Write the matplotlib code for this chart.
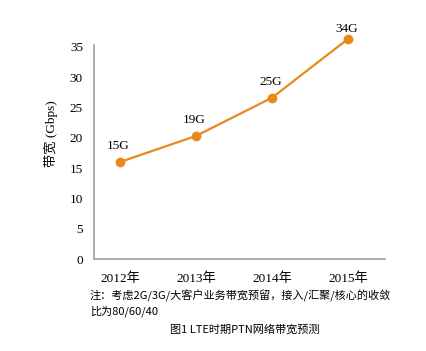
import matplotlib
matplotlib.use("Agg")
import matplotlib.pyplot as plt
import matplotlib.transforms as mtransforms

years = ["2012年", "2013年", "2014年", "2015年"]
bandwidth = [16.0, 20.3, 26.6, 36.3]
point_labels = ["15G", "19G", "25G", "34G"]
yticks = [0, 5, 10, 15, 20, 25, 30, 35]

serif = ["Liberation Serif", "Noto Sans CJK SC"]
cjk = ["Noto Sans CJK SC", "DejaVu Sans"]

fig = plt.figure(figsize=(4.26, 3.51), dpi=100)
ax = fig.add_axes([94/426, 1 - 259/351, (385-94)/426, (259-45)/351])

x = list(range(len(years)))
ax.plot(x, bandwidth, color="#E8891C", lw=1.6, marker="o", ms=6, clip_on=False, zorder=3)
label_dy = [7, 7, 7, 3]
for xi, v, lab, dy in zip(x, bandwidth, point_labels, label_dy):
    ax.annotate(lab, (xi, v), xytext=(-1, dy), textcoords="offset points",
                ha="center", va="bottom", fontsize=9.5, family=serif,
                annotation_clip=False)

ax.set_xlim(-0.342, 3.487)
ax.set_ylim(0, 35.3)
ax.set_yticks(yticks)
ax.set_xticks(x)
ax.set_xticklabels(years, family=serif, fontsize=9.5)
shift = mtransforms.ScaledTranslation(4/100, 0, fig.dpi_scale_trans)
for t in ax.get_xticklabels():
    t.set_transform(t.get_transform() + shift)
for t in ax.get_yticklabels():
    t.set_family(serif)
    t.set_fontsize(9.5)
ax.tick_params(axis="y", length=0, pad=8)
ax.tick_params(axis="x", length=0, pad=10)
for s in ["top", "right"]:
    ax.spines[s].set_visible(False)
for s in ["left", "bottom"]:
    ax.spines[s].set_color("#A0A0A0")
    ax.spines[s].set_linewidth(1.2)

fig.text(51/426, 1 - 134/351, "带宽 (Gbps)", family=serif, fontsize=9.5,
         rotation=90, ha="center", va="center")

fig.text(90/426, 1 - 296/351, "注：考虑2G/3G/大客户业务带宽预留，接入/汇聚/核心的收敛",
         family=cjk, fontsize=8, va="center", ha="left")
fig.text(90/426, 1 - 311/351, "比为80/60/40",
         family=cjk, fontsize=8, va="center", ha="left")
fig.text(245/426, 1 - 329/351, "图1 LTE时期PTN网络带宽预测",
         family=cjk, fontsize=8, va="center", ha="center")

fig.savefig("out.png", dpi=100)
